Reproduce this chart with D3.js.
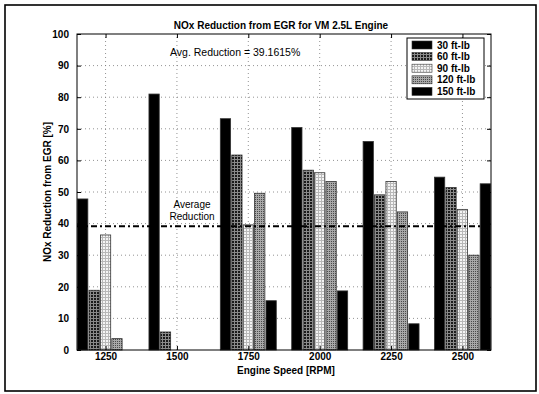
<!DOCTYPE html>
<html>
<head>
<meta charset="utf-8">
<script src="https://cdn.jsdelivr.net/npm/d3@7"></script>
<style>
  html, body { margin: 0; padding: 0; background: #fff; }
  svg text { font-family: "Liberation Sans", Arial, sans-serif; }
</style>
</head>
<body>
<svg id="chart" width="539" height="394"></svg>
<script>
// Engine speeds (x categories) and torque-level series, NOx reduction in %
const speeds = [1250, 1500, 1750, 2000, 2250, 2500];
const seriesNames = ["30 ft-lb", "60 ft-lb", "90 ft-lb", "120 ft-lb", "150 ft-lb"];
const load30  = [47.8, 81.0, 73.2, 70.4, 66.0, 54.7];
const load60  = [18.9, 5.7, 61.7, 56.9, 49.1, 51.4];
const load90  = [36.4, 0, 39.6, 56.1, 53.3, 44.5];
const load120 = [3.6, 0, 49.6, 53.3, 43.7, 30.0];
const load150 = [0, 0, 15.6, 18.7, 8.3, 52.6];
const avgReduction = 39.1615;
const yTicks = [0, 10, 20, 30, 40, 50, 60, 70, 80, 90, 100];

const allSeries = [load30, load60, load90, load120, load150];
const fills = ["#000", "url(#pat60)", "url(#pat90)", "url(#pat120)", "#000"];

const svg = d3.select("#chart");

// hatch patterns for the grey bars
const defs = svg.append("defs");
function gridPattern(id, bg, line, size) {
  const p = defs.append("pattern").attr("id", id)
    .attr("patternUnits", "userSpaceOnUse").attr("width", size).attr("height", size);
  p.append("rect").attr("width", size).attr("height", size).attr("fill", bg);
  p.append("path").attr("d", `M0,0.5H${size}M0.5,0V${size}`)
    .attr("stroke", line).attr("stroke-width", 1);
}
gridPattern("pat60", "#1a1a1a", "#8a8a8a", 3);
gridPattern("pat90", "#f4f4f4", "#b8b8b8", 3);
gridPattern("pat120", "#4a4a4a", "#a8a8a8", 2);

// outer frame
svg.append("rect").attr("x", 5).attr("y", 5).attr("width", 531).attr("height", 386)
  .attr("fill", "none").attr("stroke", "#000").attr("stroke-width", 1.6);

const x = d3.scaleLinear().domain([1150, 2600]).range([77, 491]);
const y = d3.scaleLinear().domain([0, 100]).range([350, 34]);
const pitch = 40, barW = 36;

// grid lines
const grid = svg.append("g").attr("stroke", "#777").attr("stroke-dasharray", "1,3").attr("stroke-width", 0.8);
grid.selectAll("line.v").data(speeds).join("line")
  .attr("x1", d => x(d)).attr("x2", d => x(d)).attr("y1", y(0)).attr("y2", y(100));
grid.selectAll("line.h").data(yTicks.slice(1, -1)).join("line")
  .attr("x1", x(1150)).attr("x2", x(2600)).attr("y1", d => y(d)).attr("y2", d => y(d));

// bars
allSeries.forEach((vals, i) => {
  svg.append("g").selectAll("rect").data(vals.map((v, j) => ({ s: speeds[j], v })))
    .join("rect")
    .attr("x", d => x(d.s + (i - 2) * pitch - barW / 2))
    .attr("width", x(barW) - x(0))
    .attr("y", d => y(d.v))
    .attr("height", d => y(0) - y(d.v))
    .attr("fill", fills[i])
    .attr("stroke", "#333").attr("stroke-width", d => d.v > 0 ? 0.8 : 0);
});

// average line
svg.append("line")
  .attr("x1", x(1150)).attr("x2", x(2600))
  .attr("y1", y(avgReduction)).attr("y2", y(avgReduction))
  .attr("stroke", "#000").attr("stroke-width", 2)
  .attr("stroke-dasharray", "6,3,2,3");

// axes box
svg.append("rect").attr("x", x(1150)).attr("y", y(100))
  .attr("width", x(2600) - x(1150)).attr("height", y(0) - y(100))
  .attr("fill", "none").attr("stroke", "#000").attr("stroke-width", 1);

const yAxis = d3.axisLeft(y).tickValues(yTicks).tickSize(-4).tickPadding(8).tickFormat(d3.format("d"));
const gy = svg.append("g").attr("transform", `translate(${x(1150)},0)`).call(yAxis);
gy.select(".domain").remove();
gy.selectAll("text").attr("font-size", 10).attr("font-weight", "bold").attr("fill", "#000");
const gyr = svg.append("g").attr("transform", `translate(${x(2600)},0)`)
  .call(d3.axisRight(y).tickValues(yTicks).tickSize(-4).tickFormat(""));
gyr.select(".domain").remove();

const xAxis = d3.axisBottom(x).tickValues(speeds).tickSize(-4).tickPadding(3).tickFormat(d3.format("d"));
const gx = svg.append("g").attr("transform", `translate(0,${y(0)})`).call(xAxis);
gx.select(".domain").remove();
gx.selectAll("text").attr("font-size", 10).attr("font-weight", "bold").attr("fill", "#000");
const gxt = svg.append("g").attr("transform", `translate(0,${y(100)})`)
  .call(d3.axisTop(x).tickValues(speeds).tickSize(-4).tickFormat(""));
gxt.select(".domain").remove();

// titles and labels
svg.append("text").attr("x", 281).attr("y", 28.5).attr("text-anchor", "middle")
  .attr("font-size", 10).attr("font-weight", "bold")
  .text("NOx Reduction from EGR for VM 2.5L Engine");
svg.append("text").attr("x", 286).attr("y", 374).attr("text-anchor", "middle")
  .attr("font-size", 10).attr("font-weight", "bold")
  .text("Engine Speed [RPM]");
svg.append("text").attr("transform", "translate(51,192) rotate(-90)").attr("text-anchor", "middle")
  .attr("font-size", 10).attr("font-weight", "bold")
  .text("NOx Reduction from EGR [%]");

svg.append("text").attr("x", 170).attr("y", 55.5).attr("font-size", 10.5)
  .text(`Avg. Reduction = ${avgReduction}%`);
svg.append("text").attr("x", 192).attr("y", 207.5).attr("text-anchor", "middle")
  .attr("font-size", 10).text("Average");
svg.append("text").attr("x", 192).attr("y", 220).attr("text-anchor", "middle")
  .attr("font-size", 10).text("Reduction");

// legend
const lg = svg.append("g");
lg.append("rect").attr("x", 407).attr("y", 38).attr("width", 77).attr("height", 61)
  .attr("fill", "#fff").attr("stroke", "#000").attr("stroke-width", 1);
seriesNames.forEach((name, i) => {
  const cy = 45 + i * 11.6;
  lg.append("rect").attr("x", 412).attr("y", cy - 4).attr("width", 20).attr("height", 8)
    .attr("fill", fills[i]).attr("stroke", "#333").attr("stroke-width", 0.6);
  lg.append("text").attr("x", 437).attr("y", cy + 3.5).attr("font-size", 10)
    .attr("font-weight", "bold").text(name);
});
</script>
</body>
</html>
